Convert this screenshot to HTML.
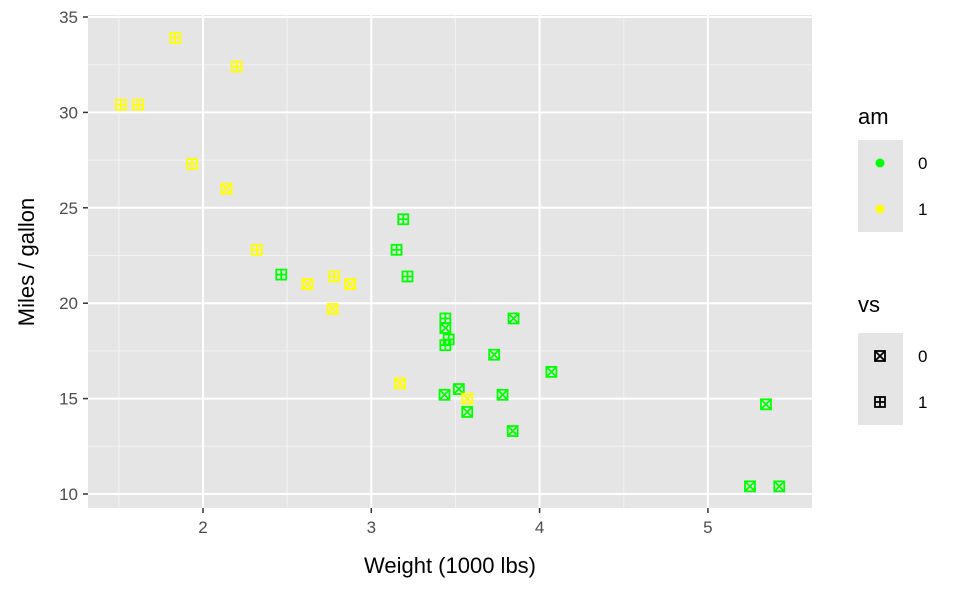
<!DOCTYPE html>
<html><head><meta charset="utf-8"><style>
html,body{margin:0;padding:0;background:#fff;}
text{font-family:"Liberation Sans",Arial,sans-serif;}
</style></head><body>
<svg id="s" width="960" height="593" xmlns="http://www.w3.org/2000/svg">
<rect x="88" y="15" width="724" height="493" fill="#e5e5e5"/>
<g id="grid"></g>
<g id="pts"></g>
<g id="axes" font-size="17" fill="#4d4d4d"></g>
<text x="450" y="573" font-size="22" text-anchor="middle" fill="#000">Weight (1000 lbs)</text>
<text transform="translate(34,262) rotate(-90)" font-size="22" text-anchor="middle" fill="#000">Miles / gallon</text>
<text x="858" y="124" font-size="22" fill="#000">am</text>
<rect x="858" y="140" width="45" height="46" fill="#e5e5e5"/>
<rect x="858" y="186" width="45" height="46" fill="#e5e5e5"/>
<circle cx="880" cy="163" r="4.5" fill="#00ff00"/>
<circle cx="880" cy="209" r="4.5" fill="#ffff00"/>
<text x="918" y="169" font-size="17" fill="#000">0</text>
<text x="918" y="215" font-size="17" fill="#000">1</text>
<text x="858" y="312" font-size="22" fill="#000">vs</text>
<rect x="858" y="333" width="45" height="46" fill="#e5e5e5"/>
<rect x="858" y="379" width="45" height="46" fill="#e5e5e5"/>
<g id="leg"></g>
<text x="918" y="362" font-size="17" fill="#000">0</text>
<text x="918" y="408" font-size="17" fill="#000">1</text>
</svg>
<script>
const NS="http://www.w3.org/2000/svg";
function el(p,t,a){const e=document.createElementNS(NS,t);for(const k in a)e.setAttribute(k,a[k]);p.appendChild(e);return e;}
const X=w=>203+(w-2)*168.3, Y=m=>494-(m-10)*19.08;
const g=document.getElementById('grid'),ax=document.getElementById('axes');
[1.5,2.5,3.5,4.5].forEach(v=>el(g,'line',{x1:X(v),x2:X(v),y1:15,y2:508,stroke:'#f2f2f2','stroke-width':1}));
[12.5,17.5,22.5,27.5,32.5].forEach(v=>el(g,'line',{y1:Y(v),y2:Y(v),x1:88,x2:812,stroke:'#f2f2f2','stroke-width':1}));
[2,3,4,5].forEach(v=>{el(g,'line',{x1:X(v),x2:X(v),y1:15,y2:508,stroke:'#fff','stroke-width':2});
 el(ax,'line',{x1:X(v),x2:X(v),y1:508,y2:513,stroke:'#333','stroke-width':1.5});
 el(ax,'text',{x:X(v),y:533,'text-anchor':'middle'}).textContent=v;});
[10,15,20,25,30,35].forEach(v=>{el(g,'line',{y1:Y(v),y2:Y(v),x1:88,x2:812,stroke:'#fff','stroke-width':2});
 el(ax,'line',{x1:83,x2:88,y1:Y(v),y2:Y(v),stroke:'#333','stroke-width':1.5});
 el(ax,'text',{x:78,y:Y(v)+6,'text-anchor':'end'}).textContent=v;});
const d=[[2.62,21,1,0],[2.875,21,1,0],[2.32,22.8,1,1],[3.215,21.4,0,1],[3.44,18.7,0,0],[3.46,18.1,0,1],[3.57,14.3,0,0],[3.19,24.4,0,1],[3.15,22.8,0,1],[3.44,19.2,0,1],[3.44,17.8,0,1],[4.07,16.4,0,0],[3.73,17.3,0,0],[3.78,15.2,0,0],[5.25,10.4,0,0],[5.424,10.4,0,0],[5.345,14.7,0,0],[2.2,32.4,1,1],[1.615,30.4,1,1],[1.835,33.9,1,1],[2.465,21.5,0,1],[3.52,15.5,0,0],[3.435,15.2,0,0],[3.84,13.3,0,0],[3.845,19.2,0,0],[1.935,27.3,1,1],[2.14,26,1,0],[1.513,30.4,1,1],[3.17,15.8,1,0],[2.77,19.7,1,0],[3.57,15,1,0],[2.78,21.4,1,1]];
function mark(p,x,y,c,vs){const r=5,sw=1.8;
 el(p,'rect',{x:x-r,y:y-r,width:2*r,height:2*r,fill:'none',stroke:c,'stroke-width':sw});
 if(vs){el(p,'line',{x1:x-r,x2:x+r,y1:y,y2:y,stroke:c,'stroke-width':sw});el(p,'line',{x1:x,x2:x,y1:y-r,y2:y+r,stroke:c,'stroke-width':sw});}
 else{el(p,'line',{x1:x-r,x2:x+r,y1:y-r,y2:y+r,stroke:c,'stroke-width':sw});el(p,'line',{x1:x-r,x2:x+r,y1:y+r,y2:y-r,stroke:c,'stroke-width':sw});}}
const P=document.getElementById('pts');
d.forEach(r=>mark(P,X(r[0]),Y(r[1]),r[2]?'#ffff00':'#00ff00',r[3]));
const L=document.getElementById('leg');
mark(L,880,356,'#000',0);mark(L,880,402,'#000',1);
</script>
</body></html>
